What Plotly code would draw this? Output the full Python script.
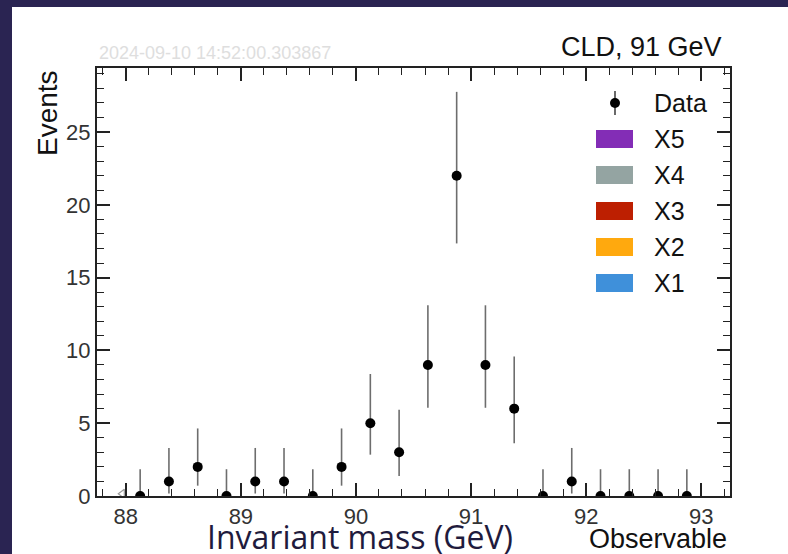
import plotly.graph_objects as go

# Binned data: 0.25 GeV bins, centers and observed counts
bin_centers = [88.125, 88.375, 88.625, 88.875, 89.125, 89.375, 89.625, 89.875,
               90.125, 90.375, 90.625, 90.875, 91.125, 91.375, 91.625, 91.875,
               92.125, 92.375, 92.625, 92.875]
counts = [0, 1, 2, 0, 1, 1, 0, 2, 5, 3, 9, 22, 9, 6, 0, 1, 0, 0, 0, 0]
# Poisson (Garwood) 68% interval bounds for each bin
err_low = [0.0, 0.17, 0.71, 0.0, 0.17, 0.17, 0.0, 0.71, 2.84, 1.37, 6.06, 17.35,
           6.06, 3.62, 0.0, 0.17, 0.0, 0.0, 0.0, 0.0]
err_high = [1.84, 3.30, 4.64, 1.84, 3.30, 3.30, 1.84, 4.64, 8.38, 5.92, 13.10, 27.76,
            13.10, 9.58, 1.84, 3.30, 1.84, 1.84, 1.84, 1.84]

# Out-of-range indicator at the low edge
edge_x = [87.97]
edge_y = [0.15]

# Stack components (legend only, no entries in range)
sample_names = ["X5", "X4", "X3", "X2", "X1"]
sample_colors = ["#832db6", "#94a4a2", "#bd1f01", "#ffa90e", "#3f90da"]

x_ticks = [88, 89, 90, 91, 92, 93]
y_ticks = [0, 5, 10, 15, 20, 25]

# Plot-area geometry in pixels (788 x 554 canvas)
W, H = 788, 554
L, R, T, B = 97, 730, 68, 496


def fx(p):
    return (p - L) / (R - L)


def fy(p):
    return (B - p) / (B - T)


FONT = "Liberation Sans, Arial, Helvetica, sans-serif"
DARK = "#2a2452"
AXC = "#222222"

fig = go.Figure()

fig.add_trace(go.Scatter(
    x=bin_centers, y=counts, mode="markers",
    marker=dict(color="black", size=10),
    error_y=dict(type="data", symmetric=False,
                 array=[h - c for h, c in zip(err_high, counts)],
                 arrayminus=[c - l for c, l in zip(counts, err_low)],
                 color="rgba(60,60,60,0.75)", thickness=1.6, width=0),
    showlegend=False, cliponaxis=True,
))

fig.add_trace(go.Scatter(
    x=edge_x, y=edge_y, mode="markers",
    marker=dict(symbol="triangle-left-open", color="#999999", size=8,
                line=dict(width=1.2)),
    showlegend=False,
))

shapes = []
# dark frame strips on top and left
shapes.append(dict(type="rect", xref="paper", yref="paper", layer="below",
                   x0=fx(0), x1=fx(W), y0=fy(7), y1=fy(0),
                   fillcolor=DARK, line=dict(width=0)))
shapes.append(dict(type="rect", xref="paper", yref="paper", layer="below",
                   x0=fx(0), x1=fx(12), y0=fy(H), y1=fy(0),
                   fillcolor=DARK, line=dict(width=0)))

annotations = []

# legend: data entry
lx_marker = 615
shapes.append(dict(type="line", xref="paper", yref="paper",
                   x0=fx(lx_marker), x1=fx(lx_marker), y0=fy(91), y1=fy(115),
                   line=dict(color="#444444", width=1.6)))
shapes.append(dict(type="circle", xref="paper", yref="paper",
                   x0=fx(lx_marker - 5), x1=fx(lx_marker + 5),
                   y0=fy(108), y1=fy(98),
                   fillcolor="black", line=dict(color="black", width=0)))
annotations.append(dict(text="Data", xref="paper", yref="paper",
                        x=fx(652), y=fy(103), xanchor="left", yanchor="middle",
                        showarrow=False, font=dict(family=FONT, size=25, color="#111")))

# legend: stack components
row0, step = 139, 36
for i, (name, col) in enumerate(zip(sample_names, sample_colors)):
    cy = row0 + i * step
    shapes.append(dict(type="rect", xref="paper", yref="paper",
                       x0=fx(596), x1=fx(633), y0=fy(cy + 9), y1=fy(cy - 9),
                       fillcolor=col, line=dict(width=0)))
    annotations.append(dict(text=name, xref="paper", yref="paper",
                            x=fx(652), y=fy(cy), xanchor="left", yanchor="middle",
                            showarrow=False,
                            font=dict(family=FONT, size=25, color="#111")))

# labels and header texts
annotations += [
    dict(text="Events", xref="paper", yref="paper", x=fx(47), y=fy(68),
         xanchor="center", yanchor="top", textangle=-90, showarrow=False,
         font=dict(family=FONT, size=28, color="#111")),
    dict(text="Observable", xref="paper", yref="paper", x=fx(729), y=fy(539),
         xanchor="right", yanchor="middle", showarrow=False,
         font=dict(family=FONT, size=27, color="#111")),
    dict(text="CLD, 91 GeV", xref="paper", yref="paper", x=fx(724), y=fy(47),
         xanchor="right", yanchor="middle", showarrow=False,
         font=dict(family=FONT, size=27, color="#111")),
    dict(text="2024-09-10 14:52:00.303867", xref="paper", yref="paper",
         x=fx(97), y=fy(53), xanchor="left", yanchor="middle", showarrow=False,
         font=dict(family=FONT, size=18, color="#dedede")),
    dict(text="Invariant mass (GeV)", xref="paper", yref="paper",
         x=fx(360), y=fy(536), xanchor="center", yanchor="middle", showarrow=False,
         font=dict(family="Open Sans, Lato, sans-serif", size=32, color="#1f1b3d")),
]

axis_common = dict(
    showline=True, linecolor=AXC, linewidth=2, mirror="ticks",
    ticks="inside", tickcolor=AXC, tickwidth=1.5, ticklen=13,
    showgrid=False, zeroline=False,
    tickfont=dict(family=FONT, size=22, color="#333"),
)

fig.update_layout(
    width=W, height=H,
    margin=dict(l=L, r=W - R, t=T, b=H - B),
    paper_bgcolor="white", plot_bgcolor="white",
    xaxis=dict(range=[87.75, 93.25], tickvals=x_ticks,
               minor=dict(dtick=0.2, tick0=88, ticks="inside", ticklen=7,
                          tickcolor=AXC, tickwidth=1.2),
               **axis_common),
    yaxis=dict(range=[0, 29.4], tickvals=y_ticks,
               minor=dict(dtick=1, tick0=0, ticks="inside", ticklen=7,
                          tickcolor=AXC, tickwidth=1.2),
               **axis_common),
    shapes=shapes, annotations=annotations, showlegend=False,
)

fig.write_html("out.html")
